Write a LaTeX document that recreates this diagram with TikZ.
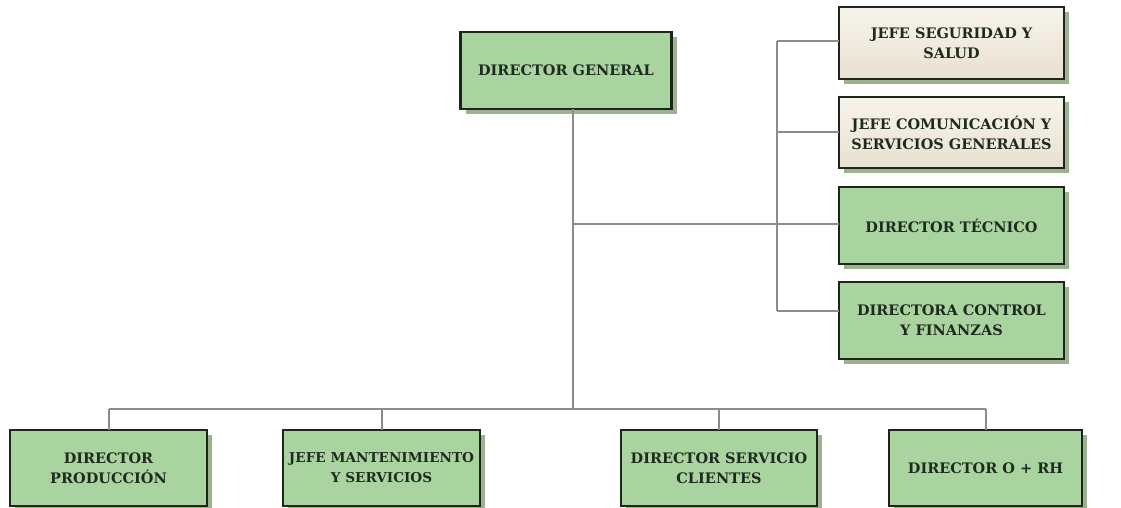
\documentclass[tikz,border=0pt]{standalone}
\usepackage{fontspec}
\setmainfont{DejaVu Serif}
\usetikzlibrary{calc}
\definecolor{boxgreen}{HTML}{A9D4A0}
\definecolor{boxline}{HTML}{1C261C}
\definecolor{shadowgreen}{HTML}{9CB28E}
\definecolor{creamtop}{HTML}{F7F4EC}
\definecolor{creambot}{HTML}{E8E1D0}
\definecolor{linkgray}{HTML}{8C8C8C}
\definecolor{textdark}{HTML}{1E2A1E}
\tikzset{
  x=1pt, y=-1pt,
  orgbox/.style={draw=boxline, line width=2.2pt, fill=boxgreen, align=center,
    font=\bfseries\fontsize{14.5}{20}\selectfont, text=textdark,
    inner sep=0pt, outer sep=0pt},
  creambox/.style={orgbox, top color=creamtop, bottom color=creambot},
  narrowtext/.style={font=\bfseries\fontsize{13.6}{20}\selectfont},
  dropshadow/.style={fill=shadowgreen, draw=none},
  link/.style={draw=linkgray, line width=2pt}
}
\newcommand{\orgnode}[6]{%
  % #1 style, #2 name, #3 x, #4 y, #5 width, #6 height
  \fill[dropshadow] (#3-#5/2+5,#4-#6/2+5) rectangle (#3+#5/2+5,#4+#6/2+5);
  \node[#1, minimum width=#5pt, minimum height=#6pt] (#2) at (#3,#4)}
\begin{document}
\begin{tikzpicture}
\useasboundingbox (0,0) rectangle (1121,508);
\fill[white] (0,0) rectangle (1121,508);

% junction points of the connector lines
\coordinate (tktop) at (573,109);
\coordinate (tkmid) at (573,224);
\coordinate (tkbot) at (573,409);
\coordinate (rtop) at (777,41);
\coordinate (rbot) at (777,311);
\coordinate (bl) at (108.5,409);
\coordinate (br) at (985.5,409);

\orgnode{orgbox}{dg}{566}{70.5}{211}{77}{DIRECTOR GENERAL};
\orgnode{creambox}{js}{951.5}{43}{225}{72}{JEFE SEGURIDAD Y\\SALUD};
\orgnode{creambox}{jc}{951.5}{132.5}{225}{71}{JEFE COMUNICACIÓN Y\\SERVICIOS GENERALES};
\orgnode{orgbox}{dt}{951.5}{225.5}{225}{77}{DIRECTOR TÉCNICO};
\orgnode{orgbox}{dc}{951.5}{320.5}{225}{77}{DIRECTORA CONTROL\\Y FINANZAS};
\orgnode{orgbox}{dp}{108.5}{468}{197}{76}{DIRECTOR\\PRODUCCIÓN};
\orgnode{orgbox,narrowtext}{jm}{381.5}{468}{197}{76}{JEFE MANTENIMIENTO\\Y SERVICIOS};
\orgnode{orgbox}{ds}{719}{468}{196}{76}{DIRECTOR SERVICIO\\CLIENTES};
\orgnode{orgbox}{dr}{985.5}{468}{193}{76}{DIRECTOR O + RH};

% connectors
\draw[link] (dg.south -| tktop) -- (tkbot);
\draw[link] (tkmid) -- (dt.west |- tkmid);
\draw[link] (rtop) -- (rbot);
\draw[link] (rtop) -- (js.west |- rtop);
\draw[link] (rtop |- jc.west) -- (jc.west);
\draw[link] (rbot) -- (dc.west |- rbot);
\draw[link] (bl) -- (br);
\draw[link] (bl) -- (dp.north);
\draw[link] (jm.north |- bl) -- (jm.north);
\draw[link] (ds.north |- bl) -- (ds.north);
\draw[link] (br) -- (dr.north);
\end{tikzpicture}
\end{document}
